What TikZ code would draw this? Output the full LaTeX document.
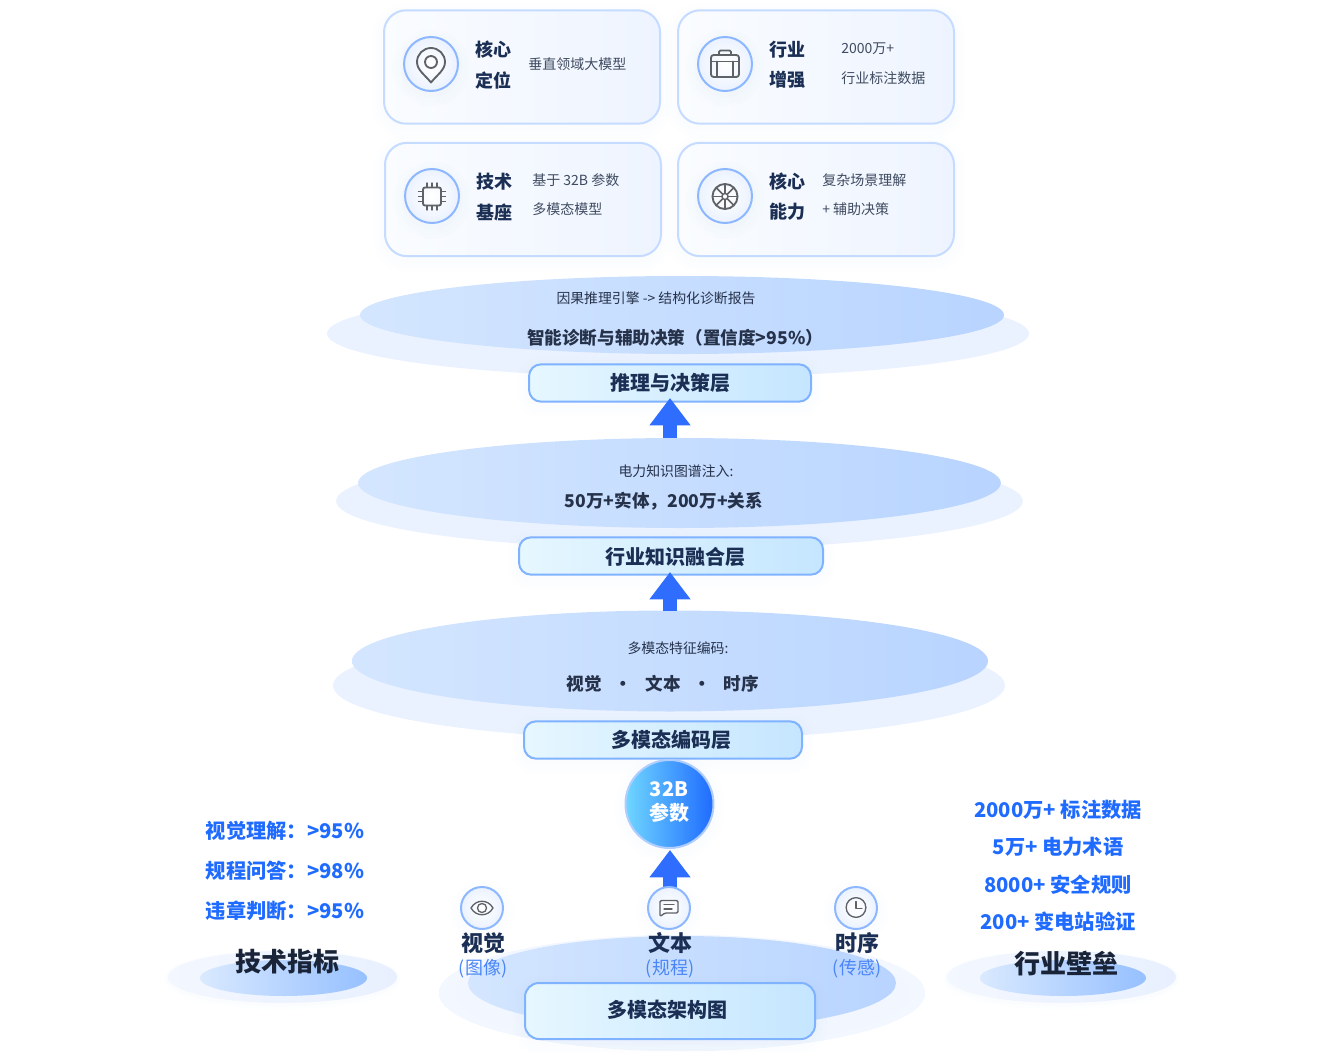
\documentclass[tikz,border=0pt]{standalone}
\usepackage{fontspec}
\setmainfont{Noto Sans CJK SC}
\usetikzlibrary{shapes.geometric,arrows.meta}
\definecolor{navy}{HTML}{1B2F55}
\definecolor{ink}{HTML}{1A2438}
\definecolor{dtext}{HTML}{26324A}
\definecolor{gtext}{HTML}{3F4B60}
\definecolor{azure}{HTML}{1F6BFF}
\definecolor{soft}{HTML}{4A86F7}
\definecolor{arrowb}{HTML}{2F6DFF}
\definecolor{ring}{HTML}{8DB8FF}
\definecolor{cardline}{HTML}{C5DBFF}
\definecolor{boxline}{HTML}{7FB2FF}
\definecolor{icong}{HTML}{5F6368}
\definecolor{shad}{HTML}{5F8FE8}
\definecolor{card1}{HTML}{FAFCFF}
\definecolor{card2}{HTML}{EEF4FF}
\definecolor{box1}{HTML}{E6F7FF}
\definecolor{box2}{HTML}{C5E6FF}
\definecolor{par1c}{HTML}{6FD6FF}
\definecolor{lin1}{HTML}{D4E6FF}
\definecolor{lin2}{HTML}{B8D4FF}
\definecolor{lout}{HTML}{EBF2FF}
\definecolor{bl1}{HTML}{D9E9FF}
\definecolor{bl2}{HTML}{96C0FF}
\definecolor{halo1}{HTML}{F3F7FF}
\definecolor{halo2}{HTML}{E8F0FF}
\tikzset{
  x=0.75pt,y=-0.75pt,
  softshadow/.style={
    preaction={draw=shad,draw opacity=.006,line width=18pt,fill=none,transform canvas={yshift=-3pt}},
    preaction={draw=shad,draw opacity=.008,line width=12pt,fill=none,transform canvas={yshift=-3pt}},
    preaction={draw=shad,draw opacity=.012,line width=6pt,fill=none,transform canvas={yshift=-2pt}}},
  card/.style={draw=cardline,line width=1.5pt,rounded corners=16.5pt,left color=card1,right color=card2,
    minimum width=207pt,minimum height=85pt,inner sep=0pt,softshadow},
  layerbox/.style={draw=boxline,line width=1.5pt,rounded corners=9pt,left color=box1,right color=box2,
    inner sep=0pt,minimum height=28pt,softshadow},
  ellin/.style={ellipse,inner sep=0pt,left color=lin1,right color=lin2},
  ellout/.style={ellipse,inner sep=0pt,fill=lout},
  ringdot/.style={circle,draw=ring,line width=1.5pt,inner sep=0pt,inner color=white,outer color=lout,softshadow},
  ico/.style={draw=icong,line width=1.4pt,line join=round,line cap=round,fill=none},
  blockarrow/.style={draw=arrowb,line width=10.5pt,-{Triangle[length=20.5pt,width=29.5pt]}},
  title/.style={font=\fontsize{13.5}{16}\bfseries\selectfont,text=navy},
  desc/.style={font=\fontsize{10.5}{13}\selectfont,text=gtext,anchor=west,inner sep=0pt},
  mid/.style={font=\fontsize{13.2}{15}\bfseries\selectfont,text=dtext},
  sub/.style={font=\fontsize{10.4}{13}\selectfont,text=dtext},
  layertext/.style={font=\fontsize{15}{18}\bfseries\selectfont,text=navy},
  iconame/.style={font=\fontsize{16.5}{20}\bfseries\selectfont,text=navy},
  iconsub/.style={font=\fontsize{13.5}{16}\selectfont,text=soft},
  metric/.style={font=\fontsize{15.2}{18}\bfseries\selectfont,text=azure},
  metrichead/.style={font=\fontsize{19.5}{24}\bfseries\selectfont,text=ink},
  halo/.style={ellipse,inner sep=0pt,left color=halo1,right color=halo2,minimum width=171.75pt,minimum height=39pt,
    preaction={draw=shad,draw opacity=.012,line width=6pt,fill=none,transform canvas={yshift=-2pt}},
    preaction={draw=shad,draw opacity=.012,line width=3pt,fill=none,transform canvas={yshift=-1pt}}},
  plate/.style={ellipse,inner sep=0pt,left color=bl1,right color=bl2,minimum height=27pt},
}
\begin{document}
\begin{tikzpicture}
\useasboundingbox (0,0) rectangle (1340,1053);
% cards
\node[card] (c1) at (522,67) {};
\node[card] (c2) at (816,67) {};
\node[card] (c3) at (523,199.5) {};
\node[card] (c4) at (816,199.5) {};
\node[ringdot,minimum size=40.5pt] (r1) at (431,64) {};
\node[ringdot,minimum size=40.5pt] (r2) at (725,64) {};
\node[ringdot,minimum size=40.5pt] (r3) at (432,196) {};
\node[ringdot,minimum size=40.5pt] (r4) at (725,196) {};
% pin
\begin{scope}[shift={(431,64)}]
\draw[ico] (0,18.5) .. controls (-6,11) and (-14,6) .. (-14,-2) .. controls (-14,-9.7) and (-7.7,-16) .. (0,-16) .. controls (7.7,-16) and (14,-9.7) .. (14,-2) .. controls (14,6) and (6,11) .. (0,18.5) -- cycle;
\draw[ico] (0,-2) circle[radius=4.5pt];
\end{scope}
% case
\begin{scope}[shift={(725,64)}]
\draw[ico,rounded corners=2pt] (-14,-9) rectangle (14,13);
\draw[ico,rounded corners=1pt] (-6,-9) -- (-6,-13.5) -- (6,-13.5) -- (6,-9);
\draw[ico] (-14,-2.5) -- (14,-2.5);
\draw[ico] (-8,-2.5) -- (-8,13);
\draw[ico] (8,-2.5) -- (8,13);
\end{scope}
% chip
\begin{scope}[shift={(432,196.5)}]
\draw[ico,rounded corners=1.5pt] (-9,-9) rectangle (9,9);
\foreach \p in {-5,0,5}{
  \draw[ico,line width=1.1pt] (\p,-9) -- (\p,-13.5);
  \draw[ico,line width=1.1pt] (\p,9) -- (\p,13.5);
  \draw[ico,line width=1.1pt] (-9,\p) -- (-13.5,\p);
  \draw[ico,line width=1.1pt] (9,\p) -- (13.5,\p);
}
\end{scope}
% wheel
\begin{scope}[shift={(725,196.5)}]
\draw[ico] (0,0) circle[radius=9.4pt];
\draw[ico,line width=1.1pt] (0,0) circle[radius=2.3pt];
\foreach \a in {0,45,...,315}{
  \draw[ico,line width=1.1pt] (\a:2.3pt) -- (\a:9.4pt);
}
\end{scope}
% card texts
\node[title] (t1a) at (493,50) {核心};
\node[title] (t1b) at (493,80) {定位};
\node[desc] (d1) at (528,64) {垂直领域大模型};
\node[title] (t2a) at (787,50) {行业};
\node[title] (t2b) at (787,80) {增强};
\node[desc] (d2a) at (841,49) {2000万+};
\node[desc] (d2b) at (841,78) {行业标注数据};
\node[title] (t3a) at (494,182) {技术};
\node[title] (t3b) at (494,212) {基座};
\node[desc] (d3a) at (532,180) {基于 32B 参数};
\node[desc] (d3b) at (532,209) {多模态模型};
\node[title] (t4a) at (787,182) {核心};
\node[title] (t4b) at (787,212) {能力};
\node[desc] (d4a) at (822,180) {复杂场景理解};
\node[desc] (d4b) at (822,209) {+ 辅助决策};
% layer 1
\node[ellout,minimum width=526.5pt,minimum height=66pt] (o1) at (678,333.5) {};
\node[ellin,minimum width=483pt,minimum height=58.5pt] (e1) at (682,315) {};
\node[sub] (s1) at (656,298) {因果推理引擎 -> 结构化诊断报告};
\node[mid] (m1) at (675,338) {智能诊断与辅助决策（置信度>95\%）};
\node[layerbox,minimum width=211.5pt] (b1) at (670,383) {};
\node[layertext] (bt1) at (670,383) {推理与决策层};
% layer 2
\node[ellout,minimum width=515pt,minimum height=72pt] (o2) at (679.5,501) {};
\node[ellin,minimum width=482pt,minimum height=67.5pt] (e2) at (679.5,483) {};
\node[sub] (s2) at (676,471) {电力知识图谱注入:};
\node[mid] (m2) at (664,501.5) {50万+实体，200万+关系};
\node[layerbox,minimum width=228pt] (b2) at (671,556) {};
\node[layertext] (bt2) at (675,557) {行业知识融合层};
% layer 3
\node[ellout,minimum width=504pt,minimum height=81pt] (o3) at (669,685.5) {};
\node[ellin,minimum width=477pt,minimum height=75.75pt] (e3) at (670,661) {};
\node[sub] (s3) at (678,648) {多模态特征编码:};
\node[mid] (m3a) at (584,683.5) {视觉};
\node[mid] (dot1) at (623,686) {•};
\node[mid] (m3b) at (663,683.5) {文本};
\node[mid] (dot2) at (702,686) {•};
\node[mid] (m3c) at (741,683.5) {时序};
\node[layerbox,minimum width=208.5pt] (b3) at (663,740) {};
\node[layertext] (bt3) at (671,740) {多模态编码层};
% arrows
\coordinate (a1s) at (670,438);
\coordinate (a1t) at (670,398);
\coordinate (a2s) at (670,611);
\coordinate (a2t) at (670,572);
\coordinate (a3s) at (670,889);
\coordinate (a3t) at (670,850);
\draw[blockarrow] (a1s) -- (a1t);
\draw[blockarrow] (a2s) -- (a2t);
% bottom ellipses
\node[ellout,inner color=lout,outer color=lout!60!white,minimum width=364.5pt,minimum height=87pt] (o4) at (682,993) {};
\node[ellin,minimum width=321pt,minimum height=70.5pt] (e4) at (682,983) {};
% centre circle
\node[circle,draw=ring!70!white,line width=1.5pt,inner sep=0pt,minimum size=66pt,left color=par1c,right color=azure,softshadow] (par) at (669.5,804) {};
\node[font=\fontsize{15}{18}\bfseries\selectfont,text=white] (par1) at (669,789) {32B};
\node[font=\fontsize{15}{18}\bfseries\selectfont,text=white] (par2) at (669,813) {参数};
\draw[blockarrow] (a3s) -- (a3t);
% small icons
\node[ringdot,minimum size=31.5pt] (i1) at (482,908) {};
\node[ringdot,minimum size=31.5pt] (i2) at (669,908) {};
\node[ringdot,minimum size=31.5pt] (i3) at (856,908) {};
\begin{scope}[shift={(482,908)}]
\draw[ico,line width=1pt] (-11,0) .. controls (-6,-9) and (6,-9) .. (11,0) .. controls (6,9) and (-6,9) .. (-11,0) -- cycle;
\draw[ico,line width=1pt] (0,0) circle[radius=3.4pt];
\end{scope}
\begin{scope}[shift={(669,907)}]
\draw[ico,line width=1pt,rounded corners=1pt] (-9,-6.5) -- (9,-6.5) -- (9,6) -- (-4,6) -- (-9,9.5) -- cycle;
\draw[ico,line width=1pt] (-5,-2.5) -- (5,-2.5);
\draw[ico,line width=1pt] (-5,2) -- (3,2);
\end{scope}
\begin{scope}[shift={(856,907.5)}]
\draw[ico,line width=1pt] (0,0) circle[radius=7.4pt];
\draw[ico,line width=1pt] (0,-6) -- (0,1) -- (6,1);
\end{scope}
\node[iconame] (n1) at (483,943) {视觉};
\node[iconame] (n2) at (670,943) {文本};
\node[iconame] (n3) at (857,943) {时序};
\node[iconsub] (u1) at (483,969) {(图像)};
\node[iconsub] (u2) at (670,969) {(规程)};
\node[iconsub] (u3) at (857,969) {(传感)};
\node[layerbox,rounded corners=10.5pt,minimum width=217.5pt,minimum height=42pt] (b4) at (670,1011) {};
\node[layertext] (bt4) at (667,1010) {多模态架构图};
% left metrics
\node[halo] (lo) at (282.5,977) {};
\node[plate,minimum width=125.25pt] (li) at (283.5,978) {};
\node[metric] (l1) at (285,831) {视觉理解：>95\%};
\node[metric] (l2) at (285,871) {规程问答：>98\%};
\node[metric] (l3) at (285,911) {违章判断：>95\%};
\node[metrichead] (lh) at (287,962) {技术指标};
% right metrics
\node[halo] (ro) at (1061.5,977) {};
\node[plate,minimum width=124.5pt] (ri) at (1063,978) {};
\node[metric] (r1t) at (1058,810) {2000万+ 标注数据};
\node[metric] (r2t) at (1058,847) {5万+ 电力术语};
\node[metric] (r3t) at (1058,885) {8000+ 安全规则};
\node[metric] (r4t) at (1058,922) {200+ 变电站验证};
\node[metrichead] (rh) at (1066,963) {行业壁垒};
\end{tikzpicture}
\end{document}
